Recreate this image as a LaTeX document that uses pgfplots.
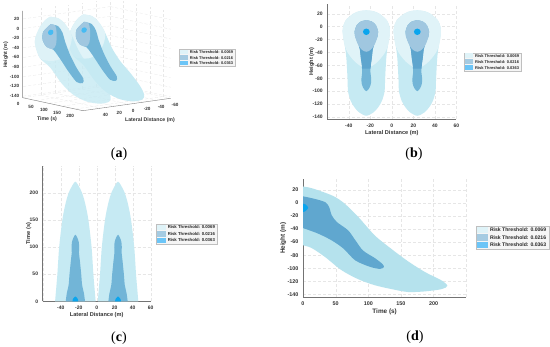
\documentclass[border=0pt]{standalone}
\usepackage{pgfplots}
\pgfplotsset{compat=1.18}
\usepackage{pgfplotstable}
\usepackage{fontspec}
\setmainfont{Liberation Sans}
\newfontfamily\capfont{Liberation Serif}
\definecolor{cOuter}{HTML}{C6EAF3}
\definecolor{cOuterD}{HTML}{B5E2ED}
\definecolor{cHead}{HTML}{E0F3F8}
\definecolor{cMid}{HTML}{72B5D7}
\definecolor{cMidD}{HTML}{5EA5CE}
\definecolor{cMidH}{HTML}{A0C7E0}
\definecolor{cCore}{HTML}{0AA5EE}
\definecolor{cTxt}{HTML}{333333}
\definecolor{cGrid}{HTML}{E6E6E6}
\definecolor{cLeg1}{HTML}{DFF3F8}
\definecolor{cLeg2}{HTML}{A5CBE2}
\definecolor{cLeg3}{HTML}{6CC5F7}

% ---- panel (a): t y z
\pgfplotstableread{
t y z
0 26.7 16.5
24.6 24 15.6
50 24 6.9
75.5 24 -13
101 24 -41
133 24 -64.8
171 24 -84.6
209 24 -107.6
224 24 -123
219 24 -134
184 24 -142.4
133 24 -144
82 24 -136
37 24 -117.5
0 26.6 -88.3
0 40.9 -66.8
0 47.3 -41.9
0 48.2 -25
0 42 -3.8
0 33.8 10.8
0 26.7 16.5
}\AOuter
\pgfplotstableread{
t y z
0 26.7 16.5
24.6 24 15.6
50 24 6.9
75.5 24 -13
69 24 -37.8
43.7 24 -61.5
12 24 -73.5
0 31.5 -73.2
0 40.9 -66.8
0 47.3 -41.9
0 48.2 -25
0 42 -3.8
0 33.8 10.8
0 26.7 16.5
}\AHead
\pgfplotstableread{
t y z
0 25.7 1
24.6 24 -0.9
41 24 -12.8
50 24 -29
69 24 -54.4
94.6 24 -79
120 24 -98
117.5 24 -107.4
94.6 24 -108
62.6 24 -89.6
33.6 24 -69
5.3 24 -51.6
0 31.5 -45
0 37.2 -30
0 36.4 -12.5
0 25.7 1
}\AMid
\pgfplotstableread{
t y z
0 25.7 1
11.8 24 -0.3
18.3 24 -15.5
15.6 24 -40
3 24 -50.3
0 31.5 -45
0 37.2 -30
0 36.4 -12.5
0 25.7 1
}\AMidH
\pgfplotstableread{
t y z
0 29.6 -16
0 28.5 -12
0 25.7 -10.4
0 22.9 -12
0 21.8 -16
0 22.9 -20
0 25.7 -21.6
0 28.5 -20
0 29.6 -16
}\ACore

% ---- panel (b): offset from blob centre, height
\pgfplotstableread{
x y
0 25
6 24
12 20
19 10
21.5 0
22 -8
21.5 -15
20.5 -25
19.5 -35
18.5 -50
17.5 -80
17 -100
14.5 -115
11 -125
6.5 -133
0 -138
-6.5 -133
-11 -125
-14.5 -115
-17 -100
-17.5 -80
-18.5 -50
-19.5 -35
-20.5 -25
-21.5 -15
-22 -8
-21.5 0
-19 10
-12 20
-6 24
0 25
}\BOuter
\pgfplotstableread{
x y
0 25
6 24
12 20
19 10
21.5 0
22 -8
21.5 -18
20 -30
17.5 -40
13 -50
8 -58
0 -65
-8 -58
-13 -50
-17.5 -40
-20 -30
-21.5 -18
-22 -8
-21.5 0
-19 10
-12 20
-6 24
0 25
}\BHead
\pgfplotstableread{
x y
0 10
5 8
9 2
11 -8
10.5 -15
8 -25
6 -35
5 -50
4 -60
3.8 -70
4.5 -80
4.3 -88
2.8 -95
0 -100
-2.8 -95
-4.3 -88
-4.5 -80
-3.8 -70
-4 -60
-5 -50
-6 -35
-8 -25
-10.5 -15
-11 -8
-9 2
-5 8
0 10
}\BMid
\pgfplotstableread{
x y
6.9 -30
6 -35
5 -50
4.3 -58
4 -65
-4 -65
-4.3 -58
-5 -50
-6 -35
-6.9 -30
}\BBand
\pgfplotstableread{
x y
0 10
5 8
9 2
11 -8
10.5 -15
8.5 -25
7 -30
4 -36
0 -39
-4 -36
-7 -30
-8.5 -25
-10.5 -15
-11 -8
-9 2
-5 8
0 10
}\BMidH
\pgfplotstableread{
x y
3.1 -8
2.2 -4.5
0 -3
-2.2 -4.5
-3.1 -8
-2.2 -11.5
0 -13
2.2 -11.5
3.1 -8
}\BCore

% ---- panel (c): offset, time
\pgfplotstableread{
x y
22.5 0
21.5 20
20 50
18 100
14.5 150
11 180
7.5 200
3 215
0 221
-3 215
-7.5 200
-11 180
-14.5 150
-18 100
-20 50
-21.5 20
-22.5 0
}\COuter
\pgfplotstableread{
x y
10.7 0
9.5 15
7.5 30
6.5 50
5 75
4 90
4.2 100
3.7 110
2 118
0 123
-2 118
-3.7 110
-4.2 100
-4 90
-5 75
-6.5 50
-7.5 30
-9.5 15
-10.7 0
}\CMid
\pgfplotstableread{
x y
3.2 0
3 3
2 6
0 9
-2 6
-3 3
-3.2 0
}\CCore

% ---- panel (d): time, height
\pgfplotstableread{
x y
0 25
13 22.5
34 15.4
49 9
64 -1.4
85 -22
110 -50
136 -71
161 -89.6
187 -106
212 -118.6
221 -127
212 -132
187 -135.4
161 -136.4
136 -132
110 -126
85 -117
59 -103
34 -83
13 -69
0 -65
}\DOuter
\pgfplotstableread{
x y
0 10
18 6
34 1
40 -6.5
44 -19
52 -29.5
69 -42
80 -57
92 -73
110 -84.5
121 -93
124 -98
118 -101
103 -98
80 -88
62 -70
44 -57.5
23 -47
0 -38.6
}\DMid
\pgfplotstableread{
x y
0 -1.4
4 -2.4
8 -7.5
4 -12.6
0 -14
}\DCore

\pgfplotsset{
  fig/.style={
    scale only axis, clip=false,
    /pgf/number format/assume math mode=true,
    tick label style={font=\bfseries\fontsize{5}{6}\selectfont, text=cTxt},
    label style={font=\bfseries\fontsize{5.6}{6.5}\selectfont, text=cTxt},
    grid=major, grid style={cGrid, densely dashed, line width=0.3pt},
    axis lines=left, axis line style={-, draw=black!55, line width=0.5pt},
    tick style={draw=none},
    xticklabel style={yshift=1pt}, yticklabel style={xshift=1pt},
    xlabel style={yshift=3.5pt}, ylabel style={yshift=-8.5pt},
  },
}
\newcommand{\blob}[3]{\addplot[fill=#1, draw=none, smooth, forget plot] table[x expr=\thisrow{x}+#3, y=y] {#2};}
\newcommand{\blobsharp}[3]{\addplot[fill=#1, draw=none, forget plot] table[x expr=\thisrow{x}+#3, y=y] {#2};}
\newcommand{\threeD}[4]{\addplot3[fill=#1, draw=none, smooth, #4] table[x=t, y expr=\thisrow{y}+#3, z expr=\thisrow{z}+(#3)/48*5] {#2};}
\newcommand{\leg}[4]{%
  \pgfmathsetmacro{\W}{#3-#1}\pgfmathsetmacro{\H}{#4-#2}%
  \pgfmathsetmacro{\FS}{0.0703*\W}%
  \filldraw[fill=black!4, draw=black!25, line width=0.3pt] (#1,{347-#2}) rectangle (#3,{347-#4});
  \foreach \r/\c/\t in {1/cLeg1/0.0069,3/cLeg2/0.0216,5/cLeg3/0.0363}{%
    \fill[\c] ({#1+0.02*\W},{347-#2-\r*\H/6+0.135*\H}) rectangle ({#1+0.16*\W},{347-#2-\r*\H/6-0.135*\H});
    \node[anchor=west, inner sep=0pt, text=black!85, font=\bfseries\fontsize{\FS}{\FS}\selectfont] at ({#1+0.19*\W},{347-#2-\r*\H/6}) {Risk Threshold: \t};
  }}
\newcommand{\figcap}[3]{\node[font=\capfont\fontsize{14}{14}\selectfont, inner sep=0pt] at (#1,{347-#2}) {(\textbf{#3})};}

\begin{document}
\begin{tikzpicture}[x=1pt,y=1pt]
\fill[white] (0,0) rectangle (550,347);
\path[use as bounding box] (0,0) rectangle (550,347);

% (a)
\begin{axis}[
  at={(68.6pt,324.86pt)}, anchor=origin,
  x={(0.262pt,-0.0565pt)}, y={(0.696pt,0.0984pt)}, z={(0pt,0.483pt)},
  y dir=reverse,
  xmin=0, xmax=230, ymin=-60, ymax=66, zmin=-143, zmax=36.5,
  xtick={0,50,...,200}, ytick={-60,-40,...,40}, ztick={-140,-120,...,20},
  clip=false,
  /pgf/number format/assume math mode=true,
  tick label style={font=\bfseries\fontsize{4.6}{5.5}\selectfont, text=cTxt},
  grid=major, grid style={black!9, densely dashed, line width=0.3pt},
  axis line style={draw=none},
  tick style={draw=none},
  xticklabel style={yshift=-1pt}, yticklabel style={yshift=-1pt},
]
\addplot3[draw=black!50, line width=0.4pt, forget plot] coordinates {(0,66,36.5) (0,66,-143) (230,66,-143) (230,-60,-143)};
\threeD{cOuter}{\AOuter}{-48}{forget plot}
\threeD{cHead}{\AHead}{-48}{forget plot}
\threeD{cMid}{\AMid}{-48}{forget plot}
\threeD{cMidH}{\AMidH}{-48}{forget plot}
\threeD{cCore!75!white}{\ACore}{-48}{forget plot}
\threeD{cOuter}{\AOuter}{0}{forget plot, fill opacity=0.8}
\threeD{cHead}{\AHead}{0}{forget plot, fill opacity=0.9}
\threeD{cMid}{\AMid}{0}{forget plot}
\threeD{cMidH}{\AMidH}{0}{forget plot}
\threeD{cCore!75!white}{\ACore}{0}{forget plot}
\end{axis}
\node[font=\bfseries\fontsize{5.2}{6}\selectfont, text=cTxt] at (47,{347-119}) {Time (s)};
\node[font=\bfseries\fontsize{5.2}{6}\selectfont, text=cTxt] at (150,{347-120.3}) {Lateral Distance (m)};
\node[font=\bfseries\fontsize{5.2}{6}\selectfont, text=cTxt, rotate=90] at (5.7,{347-55}) {Height (m)};
\leg{179}{49.3}{235}{66}
\figcap{119}{154}{a}

% (b)
\begin{axis}[fig, at={(327.3pt,228pt)}, anchor=south west, width=129pt, height=115pt,
  xmin=-60, xmax=60, ymin=-143, ymax=35,
  xtick={-60,-40,...,60}, xticklabels={,-40,-20,0,20,40,60},
  ytick={-140,-120,...,20},
  xlabel={Lateral Distance (m)}, ylabel={Height (m)}]
\blob{cOuter}{\BOuter}{-23.7}
\blob{cHead}{\BHead}{-23.7}
\blob{cMid}{\BMid}{-23.7}
\blobsharp{cMidD}{\BBand}{-23.7}
\blob{cMidH}{\BMidH}{-23.7}
\blob{cCore}{\BCore}{-23.7}
\blob{cOuter}{\BOuter}{23.7}
\blob{cHead}{\BHead}{23.7}
\blob{cMid}{\BMid}{23.7}
\blobsharp{cMidD}{\BBand}{23.7}
\blob{cMidH}{\BMidH}{23.7}
\blob{cCore}{\BCore}{23.7}
\end{axis}
\leg{464}{52.7}{521}{70.7}
\figcap{414}{154}{b}

% (c)
\begin{axis}[fig, at={(42.7pt,45.7pt)}, anchor=south west, width=108pt, height=135.3pt,
  xmin=-60, xmax=60, ymin=0, ymax=250,
  xtick={-60,-40,...,60}, xticklabels={,-40,-20,0,20,40,60},
  ytick={0,50,...,200},
  xlabel={Lateral Distance (m)}, ylabel={Time (s)}]
\blob{cOuter}{\COuter}{-23.7}
\blob{cMid}{\CMid}{-23.7}
\blob{cCore}{\CCore}{-23.7}
\blob{cOuter}{\COuter}{23.7}
\blob{cMid}{\CMid}{23.7}
\blob{cCore}{\CCore}{23.7}
\end{axis}
\leg{156}{224}{217}{243.7}
\figcap{119}{337.7}{c}

% (d)
\begin{axis}[fig, at={(303pt,50pt)}, anchor=south west, width=163.3pt, height=117.7pt,
  xmin=0, xmax=250, ymin=-144, ymax=36,
  xtick={0,50,...,250}, xticklabels={0,50,100,150,200,},
  ytick={-140,-120,...,20},
  tick label style={font=\bfseries\fontsize{5.4}{6.5}\selectfont, text=cTxt},
  label style={font=\bfseries\fontsize{6.4}{7.5}\selectfont, text=cTxt},
  ylabel style={yshift=3pt},
  xlabel={Time (s)}, ylabel={Height (m)}]
\addplot[fill=cOuterD, draw=none, smooth, forget plot] table {\DOuter};
\addplot[fill=cMidD!90!cMid, draw=none, smooth, forget plot] table {\DMid};
\addplot[fill=cCore, draw=none, smooth, forget plot] table {\DCore};
\end{axis}
\leg{476}{226}{548.7}{249}
\figcap{415}{336.7}{d}
\end{tikzpicture}
\end{document}
